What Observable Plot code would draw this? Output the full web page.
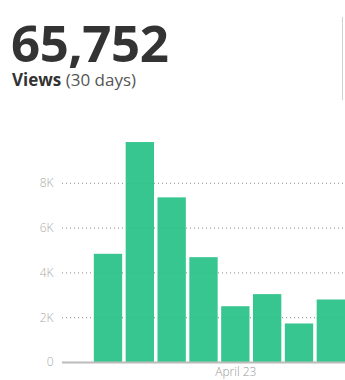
<!DOCTYPE html>
<html>
<head>
<meta charset="utf-8">
<script src="https://cdn.jsdelivr.net/npm/d3@7"></script>
<script src="https://cdn.jsdelivr.net/npm/@observablehq/plot@0.6"></script>
<style>
  html, body { margin: 0; padding: 0; background: #fff; overflow: hidden; }
  body { width: 345px; height: 380px; position: relative; font-family: "Open Sans", sans-serif; }
  #total { position: absolute; left: 11px; top: 17px; font-size: 51px; line-height: 51px; font-weight: 700; color: #333; letter-spacing: -0.5px; }
  #label { position: absolute; left: 12px; top: 71px; font-size: 17px; line-height: 17px; color: #555; }
  #label b { color: #333; }
  #divider { position: absolute; left: 342px; top: 17px; width: 1px; height: 83px; background: #d0d0d0; }
  #chart { position: absolute; left: 0; top: 130px; }
</style>
</head>
<body>
<div id="total"></div>
<div id="label"><b>Views</b> (30 days)</div>
<div id="divider"></div>
<div id="chart"></div>
<script>
const totalViews = 65752;
const days = ["April 18", "April 19", "April 20", "April 21", "April 22", "April 23", "April 24", "April 25", "April 26"];
const views = [null, 4830, 9820, 7350, 4680, 2490, 3030, 1720, 2790];
const yTicks = [0, 2000, 4000, 6000, 8000];
const xLabels = ["April 23"];

document.getElementById("total").textContent = d3.format(",")(totalViews);

const data = days.map((d, i) => ({day: d, value: views[i]})).filter(d => d.value != null);

const chart = Plot.plot({
  width: 345,
  height: 250,
  marginLeft: 62,
  marginRight: 0,
  marginTop: 8,
  marginBottom: 18,
  style: {fontFamily: "Open Sans, sans-serif", fontSize: "12px", color: "#aaa"},
  x: {domain: days, paddingInner: 0.11, paddingOuter: 0, align: 1, round: false, label: null},
  y: {domain: [0, 10000], label: null},
  marks: [
    Plot.gridY(yTicks.filter(t => t > 0), {stroke: "#999", strokeOpacity: 1, strokeDasharray: "1,3", strokeWidth: 1}),
    Plot.barY(data, {x: "day", y: "value", fill: "#38c690"}),
    Plot.gridY(yTicks.filter(t => t > 0), {stroke: "#000", strokeOpacity: 0.08, strokeDasharray: "1,3", strokeWidth: 1}),
    Plot.ruleY([0], {stroke: "#bbb", strokeWidth: 2}),
    Plot.axisY(yTicks, {tickSize: 0, tickPadding: 9, tickFormat: d => d === 0 ? "0" : d3.format("~s")(d).replace("k", "K"), fill: "#aaa", fontWeight: 300}),
    Plot.axisX(xLabels, {tickSize: 0, tickPadding: 5, fill: "#999", fontWeight: 300})
  ]
});
document.getElementById("chart").appendChild(chart);
</script>
</body>
</html>
